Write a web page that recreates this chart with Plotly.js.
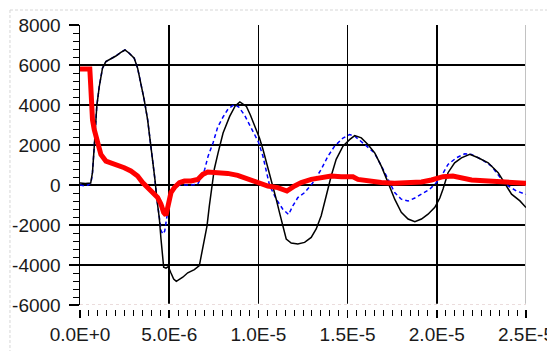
<!DOCTYPE html>
<html>
<head>
<meta charset="utf-8">
<script src="https://cdn.plot.ly/plotly-3.0.1.min.js"></script>
<style>html,body{margin:0;padding:0;background:#fff;}#chart{width:547px;height:351px;}</style>
</head>
<body>
<div id="chart"></div>
<script>
// ---- data (time in seconds, value) ----
const blackT = [0,0.3e-6,0.6e-6,0.65e-6,0.70e-6,0.80e-6,0.94e-6,1.08e-6,1.26e-6,1.45e-6,1.73e-6,2.01e-6,2.29e-6,2.52e-6,2.76e-6,3.04e-6,3.23e-6,3.42e-6,3.60e-6,3.79e-6,3.94e-6,4.07e-6,4.20e-6,4.31e-6,4.45e-6,4.54e-6,4.63e-6,4.69e-6,4.82e-6,4.95e-6,5.10e-6,5.25e-6,5.40e-6,5.76e-6,6.04e-6,6.41e-6,6.69e-6,6.79e-6,6.97e-6,7.12e-6,7.25e-6,7.38e-6,7.53e-6,7.74e-6,8.02e-6,8.39e-6,8.70e-6,8.96e-6,9.33e-6,9.55e-6,9.80e-6,10.06e-6,10.25e-6,10.50e-6,10.80e-6,11.00e-6,11.18e-6,11.37e-6,11.56e-6,11.84e-6,12.21e-6,12.59e-6,12.96e-6,13.24e-6,13.52e-6,13.80e-6,14.08e-6,14.36e-6,14.74e-6,15.11e-6,15.40e-6,15.77e-6,16.14e-6,16.52e-6,16.89e-6,17.27e-6,17.64e-6,18.01e-6,18.39e-6,18.77e-6,19.14e-6,19.51e-6,19.89e-6,20.17e-6,20.35e-6,20.63e-6,21.00e-6,21.38e-6,21.85e-6,22.32e-6,22.88e-6,23.44e-6,23.82e-6,24.19e-6,24.66e-6,24.97e-6,25.0e-6];
const blackV = [100,80,100,300,630,1940,3930,4925,5840,6170,6290,6450,6635,6750,6590,6340,5840,5090,4260,3270,2270,1280,280,-710,-1700,-2700,-3700,-4110,-4160,-4080,-4400,-4700,-4820,-4610,-4390,-4230,-4030,-3530,-2700,-2040,-1045,-50,800,1610,2600,3430,3950,4150,3930,3500,2950,2350,1800,1000,0,-710,-1370,-2120,-2700,-2900,-2950,-2870,-2620,-2200,-1540,-550,450,1280,1940,2270,2470,2355,2025,1610,945,120,-710,-1370,-1700,-1840,-1700,-1460,-1120,-650,-200,615,1110,1360,1530,1360,1110,615,35,-460,-795,-1120,-1130];

const blueT = [0,0.25e-6,0.45e-6,0.6e-6,0.65e-6,0.70e-6,0.80e-6,0.94e-6,1.08e-6,1.26e-6,1.45e-6,1.73e-6,2.01e-6,2.29e-6,2.52e-6,2.76e-6,3.04e-6,3.23e-6,3.42e-6,3.60e-6,3.79e-6,3.94e-6,4.07e-6,4.20e-6,4.31e-6,4.45e-6,4.55e-6,4.65e-6,4.75e-6,4.85e-6,4.95e-6,5.10e-6,5.29e-6,5.57e-6,5.85e-6,6.22e-6,6.60e-6,6.88e-6,6.99e-6,7.18e-6,7.46e-6,7.72e-6,8.02e-6,8.30e-6,8.67e-6,8.90e-6,9.22e-6,9.50e-6,9.80e-6,10.00e-6,10.25e-6,10.62e-6,11.00e-6,11.37e-6,11.69e-6,11.93e-6,12.21e-6,12.59e-6,13.06e-6,13.52e-6,13.90e-6,14.27e-6,14.74e-6,15.11e-6,15.40e-6,15.96e-6,16.50e-6,16.90e-6,17.27e-6,17.64e-6,18.01e-6,18.39e-6,18.77e-6,19.14e-6,19.60e-6,19.98e-6,20.26e-6,20.63e-6,21.10e-6,21.57e-6,21.95e-6,22.50e-6,23.07e-6,23.63e-6,24.00e-6,24.47e-6,24.94e-6,25.0e-6];
const blueV = [0,-50,0,100,300,630,1940,3930,4925,5840,6170,6290,6450,6635,6750,6590,6340,5840,5090,4260,3270,2270,1280,280,-710,-1700,-2300,-2450,-2300,-1700,-1100,-450,-200,0,0,0,50,500,780,1440,2110,2900,3400,3800,4030,3900,3500,3050,2500,2150,1450,0,-710,-1210,-1480,-1045,-630,-380,120,780,1440,1940,2350,2520,2440,2025,1610,945,280,-380,-710,-800,-650,-460,-210,120,450,1030,1360,1560,1530,1280,945,280,-50,-300,-460,-470];

const redT = [0,0.55e-6,0.60e-6,0.63e-6,0.70e-6,0.80e-6,0.89e-6,1.02e-6,1.17e-6,1.45e-6,1.73e-6,2.11e-6,2.48e-6,2.85e-6,3.23e-6,3.51e-6,3.79e-6,4.07e-6,4.35e-6,4.54e-6,4.69e-6,4.82e-6,4.95e-6,5.10e-6,5.29e-6,5.57e-6,5.85e-6,6.22e-6,6.60e-6,6.88e-6,7.16e-6,7.72e-6,8.28e-6,8.84e-6,9.41e-6,9.97e-6,10.53e-6,11.09e-6,11.60e-6,12.03e-6,12.40e-6,12.96e-6,13.52e-6,14.08e-6,14.64e-6,15.30e-6,15.58e-6,16.14e-6,16.89e-6,17.64e-6,18.39e-6,19.14e-6,19.70e-6,20.35e-6,20.90e-6,21.95e-6,22.88e-6,23.82e-6,24.94e-6,25.0e-6];
const redV = [5800,5800,5000,4100,3270,2770,2440,1940,1530,1195,1110,1030,865,700,450,120,-130,-380,-630,-960,-1370,-1510,-1040,-380,-130,120,200,200,280,530,650,615,580,480,280,100,-50,-130,-300,-50,120,280,365,450,415,415,280,200,120,85,120,150,250,415,450,250,200,120,85,85];

const xTickVals = [0,5e-6,1e-5,1.5e-5,2e-5,2.5e-5];
const xTickText = ["0.0E+0","5.0E-6","1.0E-5","1.5E-5","2.0E-5","2.5E-5"];
const yTickVals = [-6000,-4000,-2000,0,2000,4000,6000,8000];
const yTickText = ["-6000","-4000","-2000","0","2000","4000","6000","8000"];

const tickFont = {family: "Liberation Sans, Arial, sans-serif", size: 19, color: "#1a1a1a"};

const traces = [
  {x: blueT, y: blueV, type: "scatter", mode: "lines", line: {color: "#0000ff", width: 1.5, dash: "4px,3px"}, hoverinfo: "skip"},
  {x: blackT, y: blackV, type: "scatter", mode: "lines", line: {color: "#000000", width: 1.5}, hoverinfo: "skip"},
  {x: redT, y: redV, type: "scatter", mode: "lines", line: {color: "#ff0000", width: 5}, hoverinfo: "skip"}
];

const layout = {
  width: 547, height: 351,
  margin: {l: 80, r: 21, t: 25, b: 42},
  paper_bgcolor: "#ffffff", plot_bgcolor: "#ffffff",
  showlegend: false,
  xaxis: {
    range: [0, 2.50005e-5], anchor: "free", position: 0,
    tickmode: "array", tickvals: xTickVals, ticktext: xTickText,
    ticks: "outside", ticklen: 8, tickwidth: 1.5, tickcolor: "#000",
    tickfont: tickFont, ticklabeloverflow: "allow",
    showgrid: true, gridcolor: "#000", gridwidth: 1.5,
    zeroline: false, showline: false,
    minor: {tickmode: "linear", tick0: 0, dtick: 5e-7, ticks: "outside", ticklen: 6, tickwidth: 1, tickcolor: "#000", showgrid: false}
  },
  yaxis: {
    range: [-6000, 8000], domain: [0.0141, 1],
    tickmode: "array", tickvals: yTickVals, ticktext: yTickText,
    ticks: "outside", ticklen: 10, tickwidth: 1.5, tickcolor: "#000",
    tickfont: tickFont, ticklabelstandoff: 4,
    showgrid: true, gridcolor: "#000", gridwidth: 1.5,
    zeroline: false, showline: true, linecolor: "#000", linewidth: 1.5,
    minor: {tickmode: "linear", tick0: 0, dtick: 400, ticks: "outside", ticklen: 6, tickwidth: 1, tickcolor: "#000", showgrid: false}
  },
  shapes: [
    {type: "line", xref: "x", yref: "y", x0: 2.5e-5, x1: 2.5e-5, y0: -6000, y1: 8000, line: {color: "#c2c2c2", width: 2}, layer: "between"},
    {type: "line", xref: "x", yref: "y", x0: 0, x1: 2.5e-5, y0: -6000, y1: -6000, line: {color: "#ffffff", width: 2.5}, layer: "above"},
    {type: "line", xref: "x", yref: "y", x0: 0, x1: 2.5e-5, y0: -6000, y1: -6000, line: {color: "#d7b9b9", width: 1, dash: "dot"}, layer: "above"},
    {type: "line", xref: "paper", yref: "paper", x0: -0.157, x1: 1.2, y0: 1.0528, y1: 1.0528, line: {color: "#d6d6d6", width: 1, dash: "3px,2px"}},
    {type: "line", xref: "paper", yref: "paper", x0: -0.157, x1: -0.157, y0: 1.0528, y1: -0.2, line: {color: "#d6d6d6", width: 1, dash: "3px,2px"}}
  ]
};

Plotly.newPlot("chart", traces, layout, {staticPlot: true, displayModeBar: false});
</script>
</body>
</html>
